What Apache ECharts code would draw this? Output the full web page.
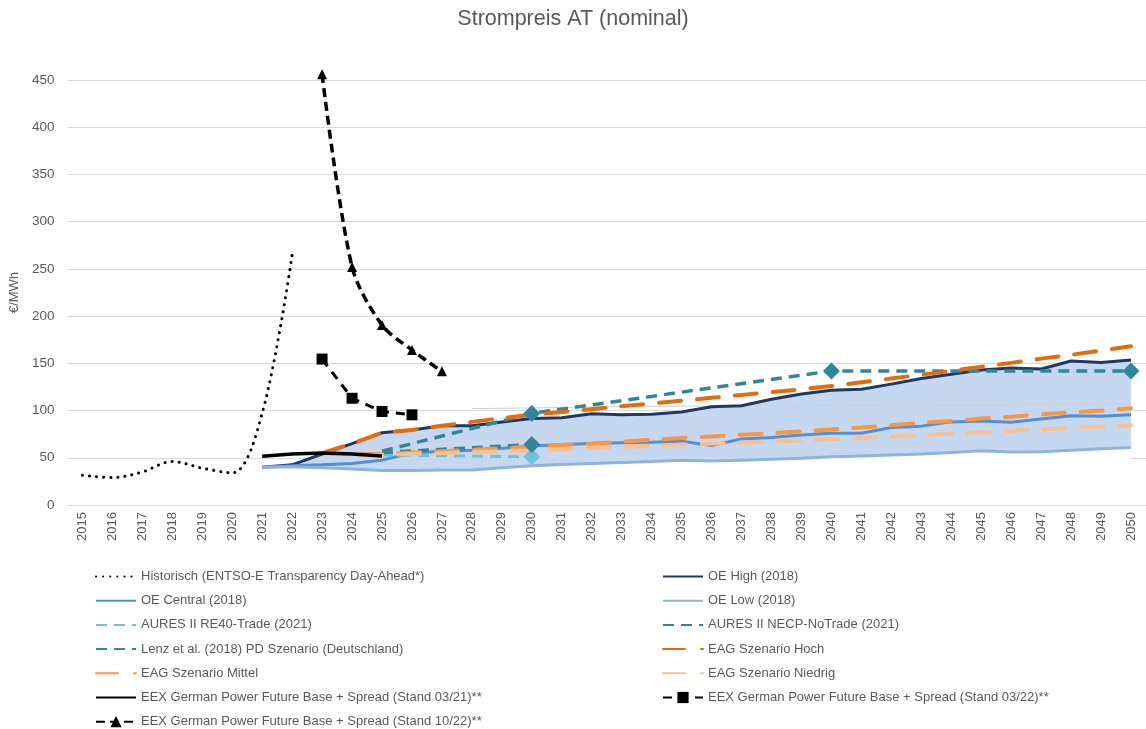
<!DOCTYPE html>
<html>
<head>
<meta charset="utf-8">
<script src="https://cdn.jsdelivr.net/npm/echarts@6/dist/echarts.min.js"></script>
<style>
html,body{margin:0;padding:0;background:#fff;}
#chart{width:1146px;height:729px;}
</style>
</head>
<body>
<div id="chart"></div>
<script>
// ---- categories ----
const years = ['2015','2016','2017','2018','2019','2020','2021','2022','2023','2024','2025','2026','2027','2028','2029','2030','2031','2032','2033','2034','2035','2036','2037','2038','2039','2040','2041','2042','2043','2044','2045','2046','2047','2048','2049','2050'];
const yTicks = [0, 450, 50]; // min, max, interval

// ---- series values (start year + yearly values) ----
const historischStart = 2015;
const historisch = [31.5, 29, 35, 46, 39, 34, 97, 265];

const oeStart = 2021;
const oeHigh    = [40, 42.5, 54, 65, 76.5, 79.5, 84, 84, 88, 91.5, 92.5, 96.5, 95.5, 96, 98.5, 104, 105, 112, 117.5, 121.5, 122.5, 128, 134, 138.5, 143, 145, 144, 152.5, 151, 153.5];
const oeCentral = [40, 41.5, 42.5, 44, 47.5, 55, 57, 58, 60, 62.5, 64, 65, 66, 66.5, 67.5, 63, 70, 71.5, 74, 76, 76, 82, 83.5, 88, 89, 87.5, 91, 94.5, 94, 95.5];
const oeLow     = [40, 40.5, 39.5, 38, 36.5, 36.5, 37, 37, 39.5, 41.5, 43, 44, 45, 46, 47.5, 46.5, 47.5, 48.5, 49.5, 51, 52, 53, 54, 55.5, 57.5, 56, 56.5, 58, 59.5, 61];

// sparse series: years + values
const auresRe40Years = ['2025','2030'];
const auresRe40      = [53, 51];
const auresNecpYears = ['2025','2030','2040','2050'];
const auresNecp      = [57, 97, 142, 142];
const lenzYears      = ['2025','2030'];
const lenz           = [55.5, 64];
const diamondYears   = ['2030','2040','2050'];

const faintYears = ['2028','2034','2040','2050'];
const faint      = [102, 104.5, 105.5, 107];

const eagStart = 2023;
const eagHoch    = [55, 65, 76.5, 79.5, 84, 88, 92, 95.5, 98.5, 101.5, 104.5, 107.5, 110.5, 113.5, 116.5, 119.5, 122.5, 126, 130, 134, 138, 142, 146.5, 150.5, 155, 159, 163.5, 168];
const eagMittel  = [55, 54, 54, 55.5, 57, 58.5, 60, 61.5, 63.5, 65, 67, 69, 71, 72.5, 74.5, 76, 78, 80, 82, 84.5, 87, 89, 91.5, 93.5, 96, 98, 100, 102.5];
const eagNiedrig = [55, 53, 53, 54, 55, 56, 57, 58, 59, 60.5, 61.5, 62.5, 64, 65, 66, 67, 68.5, 69.5, 71, 72.5, 74, 75.5, 77, 78.5, 80, 81.5, 83, 84.5];

const eex2103Start = 2021;
const eex2103 = [51.5, 54, 55, 54, 52];
const eex2203Start = 2023;
const eex2203 = [154.5, 113, 99, 95.5];
const eex2210Start = 2023;
const eex2210 = [456, 252, 190.5, 164, 141.5];

// ---- helpers ----
function fromYear(start, vals){
  const out = years.map(() => null);
  const i0 = years.indexOf(String(start));
  vals.forEach((v,k) => { out[i0+k] = v; });
  return out;
}
function sparse(ys, vals){
  const out = years.map(() => null);
  ys.forEach((y,k) => { out[years.indexOf(y)] = vals[k]; });
  return out;
}
function diamonds(ys, vals){
  const out = [];
  ys.forEach((y,k) => { if (diamondYears.indexOf(y) >= 0) out.push([y, vals[k]]); });
  return out;
}

const N = {
  hist: 'Historisch (ENTSO-E Transparency Day-Ahead*)',
  high: 'OE High (2018)',
  central: 'OE Central (2018)',
  low: 'OE Low (2018)',
  re40: 'AURES II RE40-Trade (2021)',
  necp: 'AURES II NECP-NoTrade (2021)',
  lenz: 'Lenz et al. (2018) PD Szenario (Deutschland)',
  hoch: 'EAG Szenario Hoch',
  mittel: 'EAG Szenario Mittel',
  niedrig: 'EAG Szenario Niedrig',
  e2103: 'EEX German Power Future Base + Spread (Stand 03/21)**',
  e2203: 'EEX German Power Future Base + Spread (Stand 03/22)**',
  e2210: 'EEX German Power Future Base + Spread (Stand 10/22)**'
};

const C = {
  text: '#595959', grid: '#d9d9d9',
  high: '#1f3864', central: '#558ed5', low: '#8db3e2', band: '#c6d8ef',
  teal: '#31859c', cyan: '#70c1d5',
  hoch: '#e46c0a', mittel: '#f79646', niedrig: '#fac090'
};

const lowFull = fromYear(oeStart, oeLow);
const highFull = fromYear(oeStart, oeHigh);
const bandDiff = highFull.map((v,i) => v == null ? null : v - lowFull[i]);

function line(name, data, color, width, type, extra){
  return Object.assign({
    name, type: 'line', data, symbol: 'none', connectNulls: true,
    lineStyle: { color, width, type: type || 'solid', cap: 'butt' },
    itemStyle: { color }
  }, extra || {});
}

const FONT = '"Liberation Sans", Arial, sans-serif';

const series = [
  { name: 'bandBase', type: 'line', data: lowFull, stack: 'band', symbol: 'none',
    lineStyle: { width: 0, opacity: 0 }, areaStyle: { color: '#ffffff', opacity: 1 }, silent: true },
  { name: 'bandTop', type: 'line', data: bandDiff, stack: 'band', symbol: 'none',
    lineStyle: { width: 0, opacity: 0 }, areaStyle: { color: C.band, opacity: 1 }, silent: true },
  line('faint', sparse(faintYears, faint), '#d0d0d0', 1),

  line(N.hist, fromYear(historischStart, historisch), '#000', 3, [0.1, 7], { smooth: 0.35, lineStyle: { color: '#000', width: 3, type: [0.1, 7], cap: 'round' } }),
  line(N.high, highFull, C.high, 3),
  line(N.central, fromYear(oeStart, oeCentral), C.central, 3),
  line(N.low, lowFull, C.low, 3),
  line(N.re40, sparse(auresRe40Years, auresRe40), C.cyan, 3, [11, 7]),
  line(N.necp, sparse(auresNecpYears, auresNecp), C.teal, 3.5, [11, 7]),
  line(N.lenz, sparse(lenzYears, lenz), C.teal, 3.5, [11, 7]),
  line(N.hoch, fromYear(eagStart, eagHoch), C.hoch, 4, [22, 16], { lineStyle: { color: C.hoch, width: 4, type: [22, 16], cap: 'round' } }),
  line(N.mittel, fromYear(eagStart, eagMittel), C.mittel, 4, [22, 16], { lineStyle: { color: C.mittel, width: 4, type: [22, 16], cap: 'round' } }),
  line(N.niedrig, fromYear(eagStart, eagNiedrig), C.niedrig, 4, [22, 16], { lineStyle: { color: C.niedrig, width: 4, type: [22, 16], cap: 'round' } }),
  line(N.e2103, fromYear(eex2103Start, eex2103), '#000', 3.5),
  line(N.e2203, fromYear(eex2203Start, eex2203), '#000', 3, [9, 7], { symbol: 'rect', symbolSize: 11, showSymbol: true }),
  line(N.e2210, fromYear(eex2210Start, eex2210), '#000', 3.5, [9, 5], { symbol: 'triangle', symbolSize: 10, showSymbol: true, smooth: 0.3, clip: false }),

  { name: 'dRe40', type: 'scatter', data: diamonds(auresRe40Years, auresRe40), symbol: 'diamond', symbolSize: 17, itemStyle: { color: C.cyan, opacity: 1 }, silent: true, z: 3 },
  { name: 'dLenz', type: 'scatter', data: diamonds(lenzYears, lenz), symbol: 'diamond', symbolSize: 17, itemStyle: { color: C.teal, opacity: 1 }, silent: true, z: 3 },
  { name: 'dNecp', type: 'scatter', data: diamonds(auresNecpYears, auresNecp), symbol: 'diamond', symbolSize: 17, itemStyle: { color: C.teal, opacity: 1 }, silent: true, z: 3 }
];

const noMarker = { opacity: 0 };
function legendItems(names, withMarker){
  return names.map(n => withMarker.indexOf(n) >= 0 ? { name: n } : { name: n, itemStyle: noMarker });
}
const markerNames = [N.e2203, N.e2210];

const legendText = { color: C.text, fontSize: 13, fontFamily: FONT };
const legendCommon = {
  orient: 'vertical', top: 570, height: 170, padding: 0, itemWidth: 40, itemHeight: 14, itemGap: 11.2,
  selectedMode: false, textStyle: legendText
};

const option = {
  animation: false,
  backgroundColor: '#fff',
  textStyle: { fontFamily: FONT },
  title: {
    text: 'Strompreis AT (nominal)', left: 'center', top: 3,
    textStyle: { color: C.text, fontSize: 21.5, fontWeight: 'normal', fontFamily: FONT }
  },
  grid: { left: 67, top: 80, width: 1080, height: 425, containLabel: false },
  legend: [
    Object.assign({}, legendCommon, { left: 95, data: legendItems([N.hist, N.central, N.re40, N.lenz, N.mittel, N.e2103, N.e2210], markerNames) }),
    Object.assign({}, legendCommon, { left: 662, data: legendItems([N.high, N.low, N.necp, N.hoch, N.niedrig, N.e2203], markerNames) })
  ],
  xAxis: {
    type: 'category', data: years, boundaryGap: true, z: 5,
    axisLine: { show: true, lineStyle: { color: C.grid, width: 1 } },
    axisTick: { show: false },
    axisLabel: { rotate: 90, color: C.text, fontSize: 13, fontFamily: FONT, margin: 7, interval: 0 },
    splitLine: { show: false }
  },
  yAxis: {
    type: 'value', min: yTicks[0], max: yTicks[1], interval: yTicks[2],
    name: '€/MWh', nameLocation: 'middle', nameGap: 39,
    nameTextStyle: { color: C.text, fontSize: 13, fontFamily: FONT },
    axisLine: { show: false }, axisTick: { show: false },
    axisLabel: { color: C.text, fontSize: 13.5, fontFamily: FONT, margin: 13 },
    splitLine: { lineStyle: { color: C.grid, width: 1 } }
  },
  series
};

const chart = echarts.init(document.getElementById('chart'), null, { renderer: 'canvas' });
chart.setOption(option);
</script>
</body>
</html>
